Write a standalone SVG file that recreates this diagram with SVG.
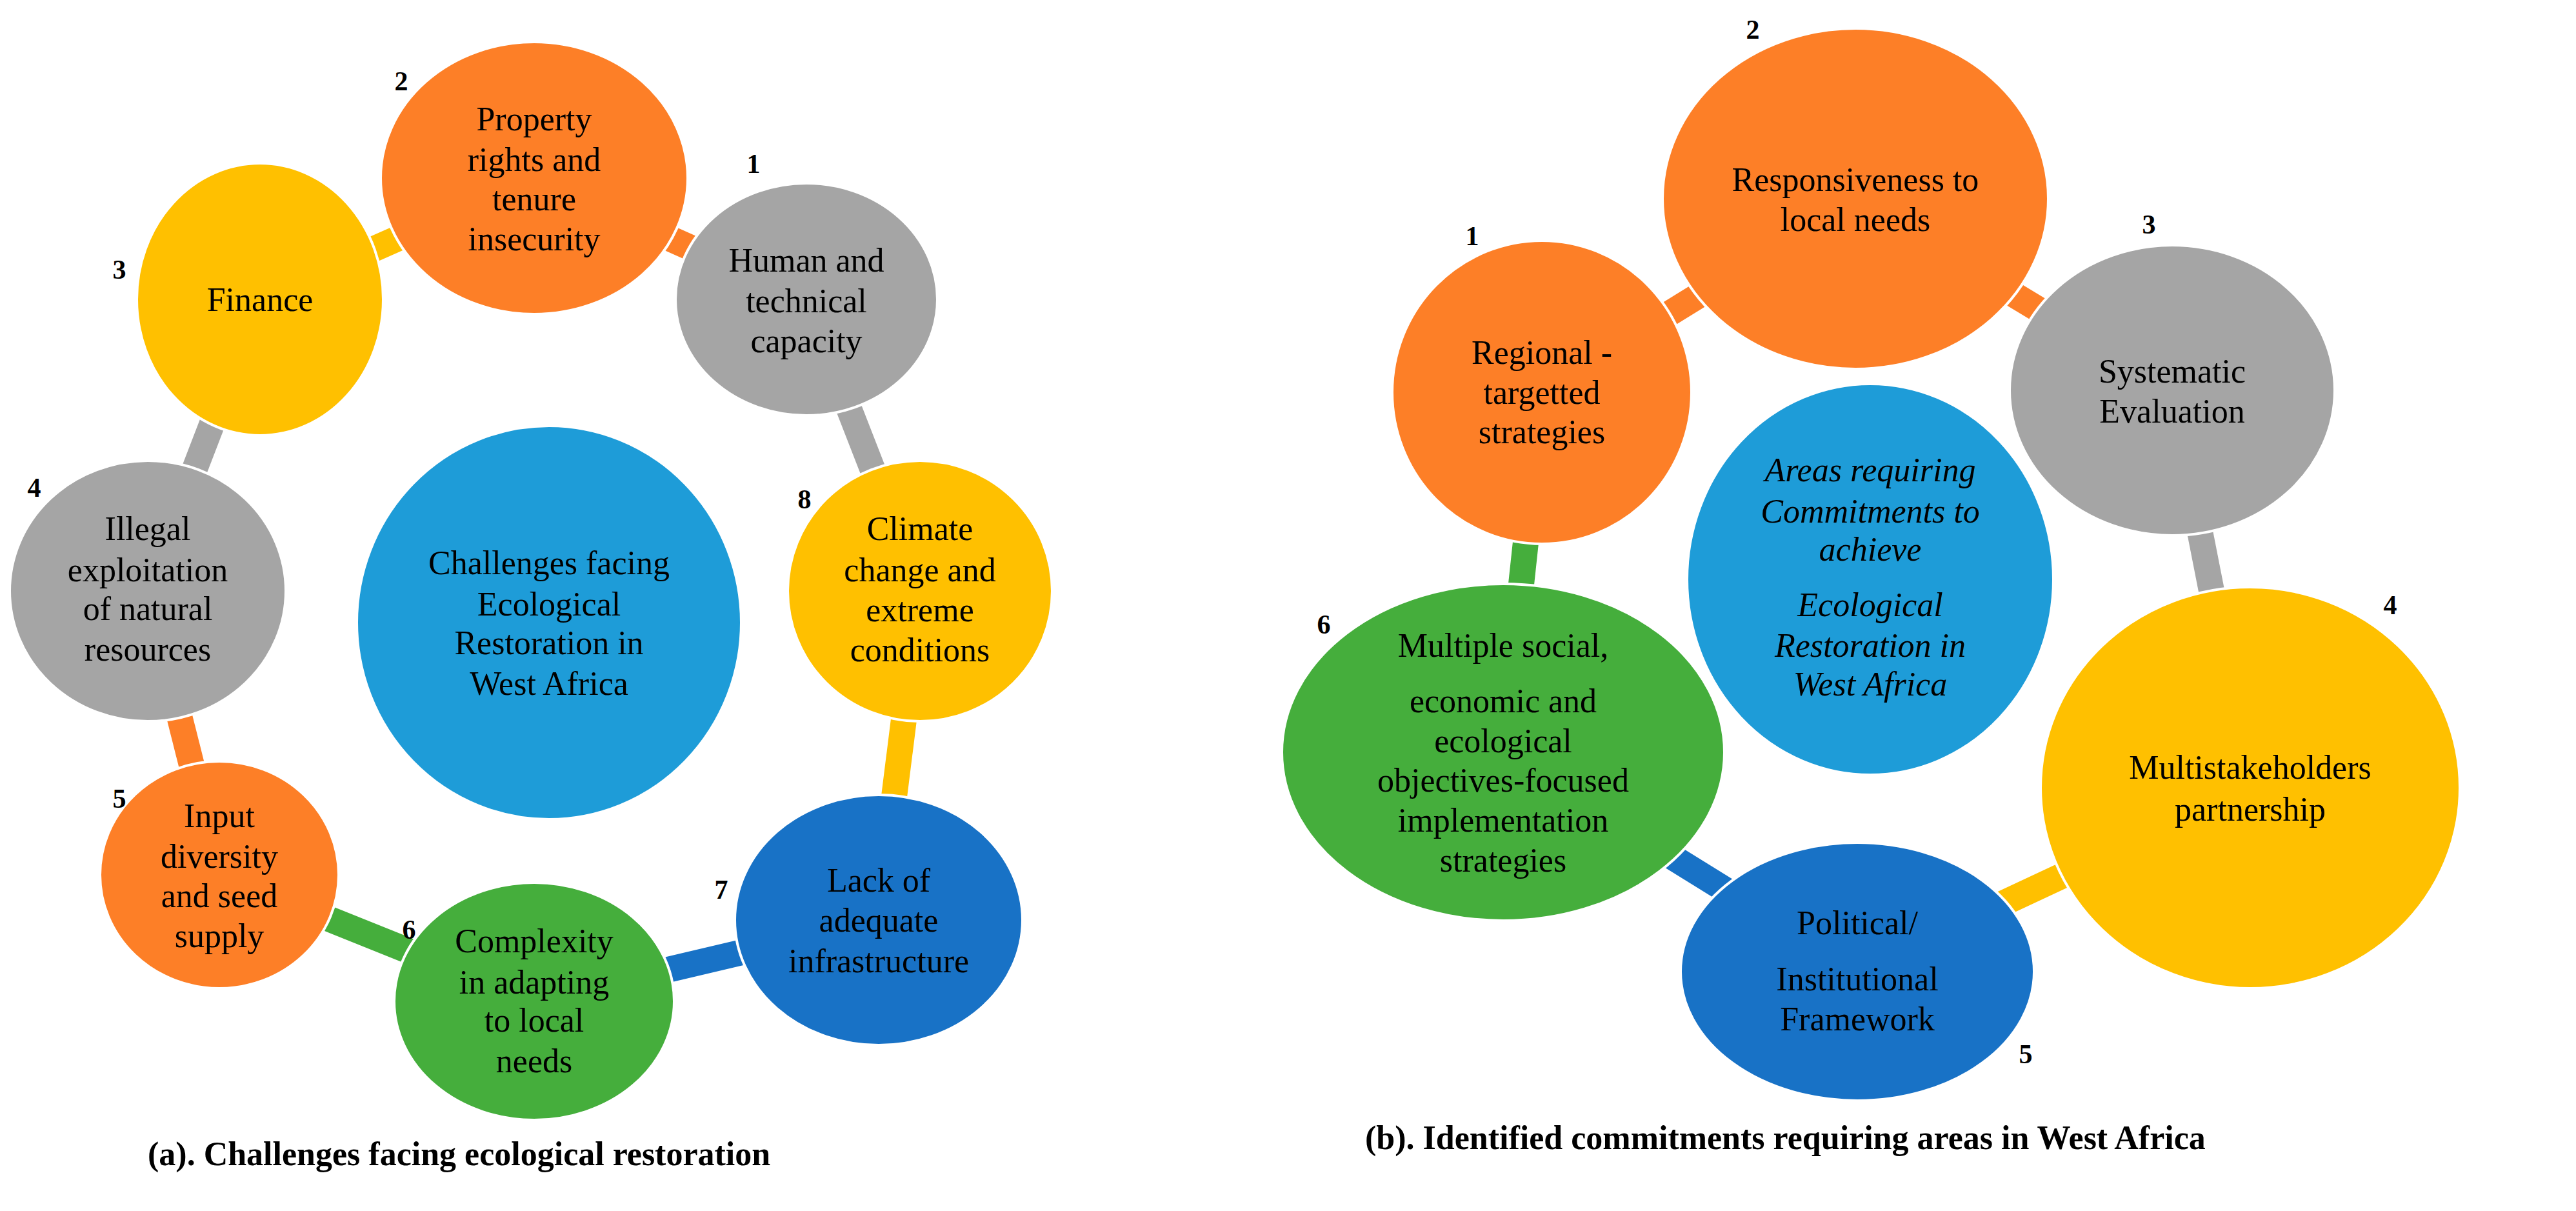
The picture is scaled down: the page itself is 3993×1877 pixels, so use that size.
<svg xmlns="http://www.w3.org/2000/svg" width="3993" height="1877" viewBox="0 0 3993 1877" font-family="'Liberation Serif', 'Times New Roman', serif">
<style>
text{font-family:'Liberation Serif','Times New Roman',serif;font-size:52px;fill:#000;text-anchor:middle}
.n{font-weight:bold;font-size:42px}
.cap{font-weight:bold;font-size:52px;text-anchor:start}
.it{font-style:italic}
ellipse{stroke:#fff;stroke-width:4}
.or{fill:#FD7F27}.gr{fill:#A5A5A5}.ye{fill:#FFC000}.lb{fill:#1E9CD8}.bl{fill:#1872C6}.gn{fill:#45AE3C}
line{stroke-width:40}
</style>
<rect width="3993" height="1877" fill="#fff"/>
<g id="connectors">
<line x1="828" y1="276" x2="1250" y2="464" stroke="#FD7F27" stroke-width="28"/>
<line x1="403" y1="464" x2="828" y2="276" stroke="#FFC000" stroke-width="28"/>
<line x1="403" y1="464" x2="229" y2="916" stroke="#A5A5A5"/>
<line x1="229" y1="916" x2="340" y2="1356" stroke="#FD7F27"/>
<line x1="340" y1="1356" x2="828" y2="1552" stroke="#45AE3C"/>
<line x1="828" y1="1552" x2="1362" y2="1426" stroke="#1872C6"/>
<line x1="1362" y1="1426" x2="1426" y2="916" stroke="#FFC000"/>
<line x1="1426" y1="916" x2="1250" y2="464" stroke="#A5A5A5"/>
<line x1="2390" y1="608" x2="2876" y2="308" stroke="#FD7F27"/>
<line x1="2876" y1="308" x2="3367" y2="605" stroke="#FD7F27"/>
<line x1="3367" y1="605" x2="3488" y2="1221" stroke="#A5A5A5"/>
<line x1="3488" y1="1221" x2="2879" y2="1506" stroke="#FFC000"/>
<line x1="2879" y1="1506" x2="2330" y2="1166" stroke="#1872C6"/>
<line x1="2330" y1="1166" x2="2390" y2="608" stroke="#45AE3C"/>
</g>
<g id="a-property"><ellipse class="or" cx="828" cy="276" rx="238" ry="211"/><text x="828" y="202">Property</text><text x="828" y="265">rights and</text><text x="828" y="326">tenure</text><text x="828" y="388">insecurity</text><text class="n" x="622" y="140">2</text></g>
<g id="a-human"><ellipse class="gr" cx="1250" cy="464" rx="203" ry="180"/><text x="1250" y="421">Human and</text><text x="1250" y="484">technical</text><text x="1250" y="546">capacity</text><text class="n" x="1168" y="268">1</text></g>
<g id="a-finance"><ellipse class="ye" cx="403" cy="464" rx="191" ry="211"/><text x="403" y="482">Finance</text><text class="n" x="185" y="432">3</text></g>
<g id="a-illegal"><ellipse class="gr" cx="229" cy="916" rx="214" ry="202"/><text x="229" y="837">Illegal</text><text x="229" y="901">exploitation</text><text x="229" y="961">of natural</text><text x="229" y="1024">resources</text><text class="n" x="53" y="770">4</text></g>
<g id="a-center"><ellipse class="lb" cx="851" cy="965" rx="298" ry="305"/><text x="851" y="890">Challenges facing</text><text x="851" y="954">Ecological</text><text x="851" y="1014">Restoration in</text><text x="851" y="1077">West Africa</text></g>
<g id="a-climate"><ellipse class="ye" cx="1426" cy="916" rx="205" ry="202"/><text x="1426" y="837">Climate</text><text x="1426" y="901">change and</text><text x="1426" y="963">extreme</text><text x="1426" y="1025">conditions</text><text class="n" x="1247" y="788">8</text></g>
<g id="a-input"><ellipse class="or" cx="340" cy="1356" rx="185" ry="176"/><text x="340" y="1282">Input</text><text x="340" y="1345">diversity</text><text x="340" y="1406">and seed</text><text x="340" y="1468">supply</text><text class="n" x="185" y="1252">5</text></g>
<g id="a-complexity"><ellipse class="gn" cx="828" cy="1552" rx="217" ry="184"/><text x="828" y="1476">Complexity</text><text x="828" y="1540">in adapting</text><text x="828" y="1599">to local</text><text x="828" y="1662">needs</text><text class="n" x="634" y="1455">6</text></g>
<g id="a-lack"><ellipse class="bl" cx="1362" cy="1426" rx="223" ry="194"/><text x="1362" y="1382">Lack of</text><text x="1362" y="1444">adequate</text><text x="1362" y="1507">infrastructure</text><text class="n" x="1118" y="1393">7</text></g>
<text class="cap" x="229" y="1806">(a). Challenges facing ecological restoration</text>
<g id="b-resp"><ellipse class="or" cx="2876" cy="308" rx="299" ry="264"/><text x="2876" y="296">Responsiveness to</text><text x="2876" y="358">local needs</text><text class="n" x="2717" y="60">2</text></g>
<g id="b-regional"><ellipse class="or" cx="2390" cy="608" rx="232" ry="235"/><text x="2390" y="564">Regional -</text><text x="2390" y="626">targetted</text><text x="2390" y="687">strategies</text><text class="n" x="2282" y="380">1</text></g>
<g id="b-syst"><ellipse class="gr" cx="3367" cy="605" rx="252" ry="225"/><text x="3367" y="593">Systematic</text><text x="3367" y="655">Evaluation</text><text class="n" x="3331" y="362">3</text></g>
<g id="b-center"><ellipse class="lb" cx="2899" cy="898" rx="284" ry="303"/><text class="it" x="2899" y="746">Areas requiring</text><text class="it" x="2899" y="810">Commitments to</text><text class="it" x="2899" y="869">achieve</text><text class="it" x="2899" y="955">Ecological</text><text class="it" x="2899" y="1018">Restoration in</text><text class="it" x="2899" y="1078">West Africa</text></g>
<g id="b-multiple"><ellipse class="gn" cx="2330" cy="1166" rx="343" ry="261"/><text x="2330" y="1018">Multiple social,</text><text x="2330" y="1104">economic and</text><text x="2330" y="1166">ecological</text><text x="2330" y="1227">objectives-focused</text><text x="2330" y="1289">implementation</text><text x="2330" y="1351">strategies</text><text class="n" x="2052" y="982">6</text></g>
<g id="b-multi"><ellipse class="ye" cx="3488" cy="1221" rx="325" ry="311"/><text x="3488" y="1207">Multistakeholders</text><text x="3488" y="1272">partnership</text><text class="n" x="3705" y="952">4</text></g>
<g id="b-political"><ellipse class="bl" cx="2879" cy="1506" rx="274" ry="200"/><text x="2879" y="1448">Political/</text><text x="2879" y="1535">Institutional</text><text x="2879" y="1597">Framework</text><text class="n" x="3140" y="1648">5</text></g>
<text class="cap" x="2116" y="1781">(b). Identified commitments requiring areas in West Africa</text>
</svg>
